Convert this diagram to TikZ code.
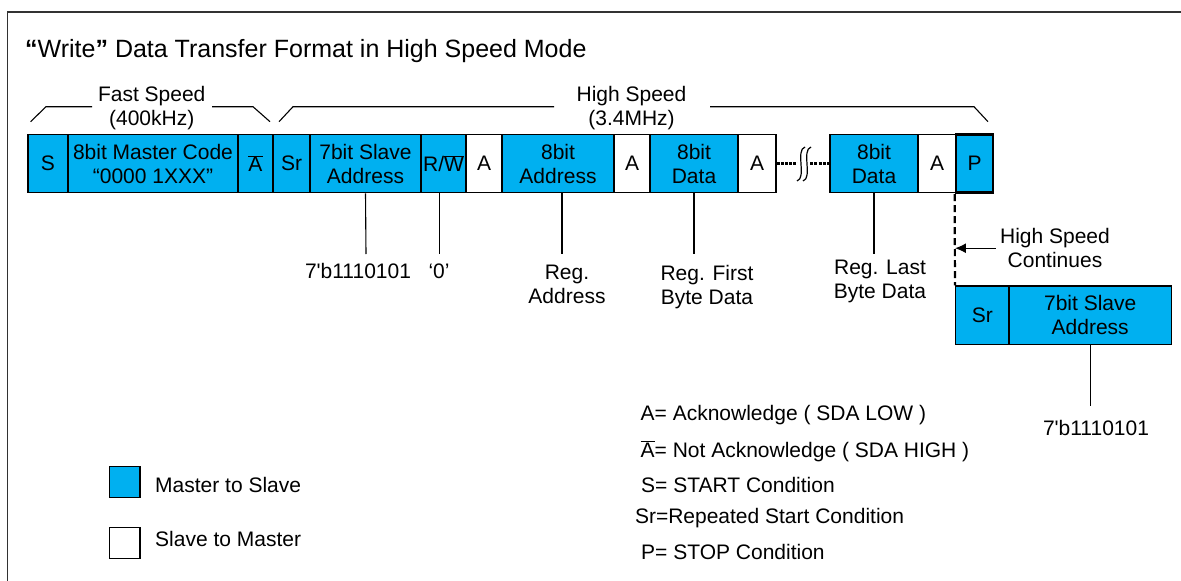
\documentclass[tikz,border=0pt]{standalone}
\usepackage{fontspec}
\setmainfont{Liberation Sans}
\usetikzlibrary{arrows.meta}
\definecolor{msblue}{RGB}{0,176,240}
\definecolor{framegray}{RGB}{50,50,50}
\newcommand{\ovl}[1]{$\overline{\mbox{#1}}$}

\begin{document}
\begin{tikzpicture}[x=1pt, y=-1pt,
  txt/.style={font=\fontsize{21}{24}\selectfont, inner sep=0pt, align=center},
  fld/.style={txt, draw, line width=1.3pt, fill=msblue, minimum height=58.4pt},
  ack/.style={fld, fill=white},
  lead/.style={line width=1.1pt}]
\useasboundingbox (0,0) rectangle (1181,581);
\clip (0,0) rectangle (1181,581);
\draw[framegray, line width=1.4pt] (7.7,12) rectangle (1200,600);

% Title
\node[txt, font=\fontsize{25}{30}\selectfont, anchor=base west] (title) at (25,57.3)
  {{\bfseries “}Write{\bfseries ”} Data Transfer Format in High Speed Mode};

% Speed ranges
\node[txt, anchor=north] (fast) at (151.7,86) {Fast Speed\\(400kHz)};
\node[txt, anchor=north] (high) at (631.5,86) {High Speed\\(3.4MHz)};
\draw[lead] (30.6,121.7) -- (46,106.7) -- (92,106.7);
\draw[lead] (212,106.7) -- (253,106.7) -- (270,121.7);
\draw[lead] (279,121.7) -- (293,106.7) -- (554,106.7);
\draw[lead] (710,106.7) -- (974,106.7) -- (988,121.7);

% Main frame row
\node[fld, minimum width=40pt] (s) at (48,163.5) {S};
\node[fld, minimum width=170pt] (mcode) at (153,163.5) {8bit Master Code\\“0000 1XXX”};
\node[fld, minimum width=35pt] (nack) at (255.5,163.5) {\ovl{A}};
\node[fld, minimum width=37pt] (sr) at (291.5,163.5) {Sr};
\node[fld, minimum width=111pt] (saddr) at (365.5,163.5) {7bit Slave\\Address};
\node[fld, minimum width=45pt] (rw) at (443.5,163.5) {R/\ovl{W}};
\node[ack, minimum width=36pt] (a1) at (484,163.5) {A};
\node[fld, minimum width=112pt] (raddr) at (558,163.5) {8bit\\Address};
\node[ack, minimum width=36pt] (a2) at (632,163.5) {A};
\node[fld, minimum width=88pt] (dfirst) at (694,163.5) {8bit\\Data};
\node[ack, minimum width=38pt] (a3) at (757,163.5) {A};
\node[fld, minimum width=88pt] (dlast) at (874,163.5) {8bit\\Data};
\node[ack, minimum width=38pt] (a4) at (937,163.5) {A};
\node[fld, minimum width=37pt, line width=2.6pt] (p) at (974.5,163.5) {P};

% Break between data bytes
\draw[line width=2.2pt, dash pattern=on 3pt off 1.2pt] (a3) -- (dlast);
\fill[white] (798,146) rectangle (810,182);
\draw[line width=1.2pt] (805,147) .. controls (795,150) and (807,178) .. (797,181);
\draw[line width=1.2pt] (811,147) .. controls (801,150) and (813,178) .. (803,181);

% Field values
\node[txt, anchor=north] (vsaddr) at (358,263.3) {7\textquotesingle b1110101};
\node[txt, anchor=north] (vrw) at (439,263.3) {‘0’};
\node[txt, anchor=north] (vraddr) at (567,265) {Reg.\\Address};
\node[txt, anchor=north] (vfirst) at (707,265) {Reg. First\\Byte Data};
\node[txt, anchor=north] (vlast) at (880,260) {Reg. Last\\Byte Data};
\draw[lead] (saddr.south) -- (366,254);
\draw[lead] ([xshift=-4pt]rw.south) -- (439.5,254);
\draw[lead] ([xshift=4pt]raddr.south) -- (562,254);
\draw[lead] (dfirst.south) -- (694,254);
\draw[lead] (dlast.south) -- (874,254);

% Repeated start in high speed
\node[fld, minimum width=53.4pt] (sr2) at (982.3,315.2) {Sr};
\node[fld, minimum width=162.4pt] (saddr2) at (1090.2,315.2) {7bit Slave\\Address};
\draw[line width=2.2pt, dash pattern=on 7pt off 4pt] (p.south west) -- (sr2.north west);
\node[txt, anchor=north] (hsc) at (1055,228.3) {High Speed\\Continues};
\draw[line width=1.3pt, -{Latex[length=11pt, width=10pt]}] ([xshift=-4pt]hsc.west) -- (hsc.west -| sr2.north west);
\node[txt, anchor=north] (vsaddr2) at (1096,420) {7\textquotesingle b1110101};
\draw[lead] (saddr2.south) -- (1090.2,406);

% Symbols
\node[txt, anchor=base west] (kack) at (640.5,420.7) {A= Acknowledge ( SDA LOW )};
\node[txt, anchor=base west] (knack) at (640.5,457.3) {\ovl{A}= Not Acknowledge ( SDA HIGH )};
\node[txt, anchor=base west] (kstart) at (641,492.7) {S= START Condition};
\node[txt, anchor=base west] (krep) at (634.8,523.3) {Sr=Repeated Start Condition};
\node[txt, anchor=base west] (kstop) at (641,559.3) {P= STOP Condition};

% Direction legend
\draw[line width=1.3pt, fill=msblue] (109.3,466.7) rectangle (140,497.3);
\node[txt, anchor=base west] (mts) at (155,492.7) {Master to Slave};
\draw[line width=1.3pt, fill=white] (109.3,527.3) rectangle (140,558.3);
\node[txt, anchor=base west] (stm) at (155,546) {Slave to Master};
\end{tikzpicture}
\end{document}
